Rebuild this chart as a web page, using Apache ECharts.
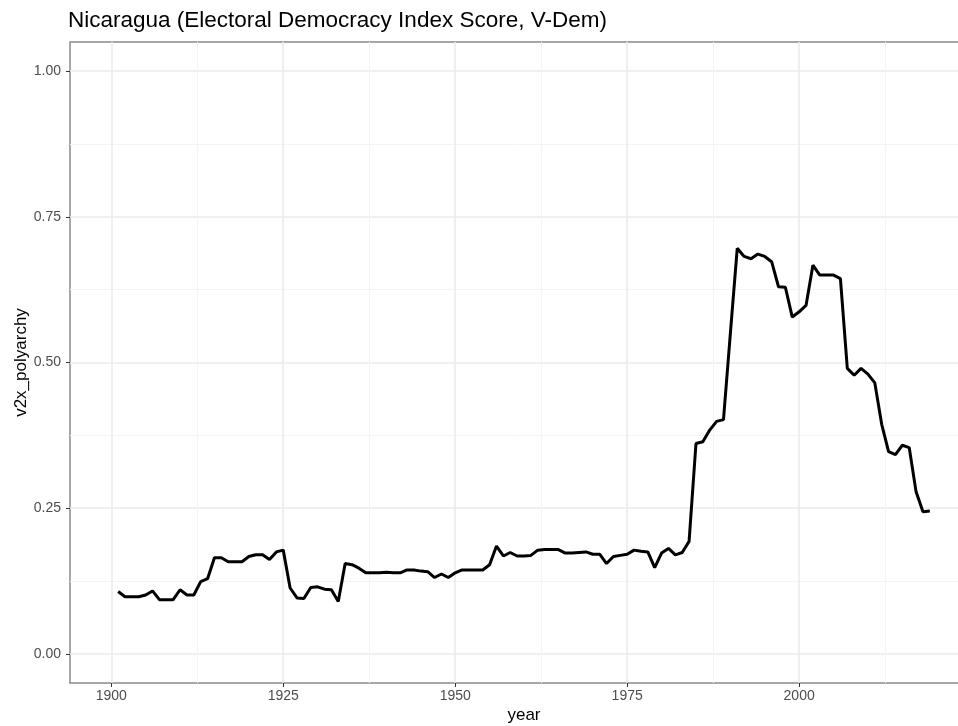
<!DOCTYPE html>
<html>
<head>
<meta charset="utf-8">
<script src="https://cdn.jsdelivr.net/npm/echarts@6/dist/echarts.min.js"></script>
<style>
  html, body { margin: 0; padding: 0; background: #fff; }
  #chart { width: 958px; height: 726px; }
</style>
</head>
<body>
<div id="chart"></div>
<script>
// 数据：年份与 v2x_polyarchy 值
const years = [];
for (let y = 1901; y <= 2019; y++) years.push(y);
const polyarchy = [
  0.107, 0.098, 0.098, 0.098, 0.101, 0.108, 0.093, 0.093, 0.093, 0.110, // 1901-1910
  0.101, 0.101, 0.124, 0.129, 0.165, 0.165, 0.158, 0.158, 0.158, 0.167, // 1911-1920
  0.170, 0.170, 0.162, 0.175, 0.178, 0.113, 0.096, 0.095, 0.114, 0.115, // 1921-1930
  0.111, 0.110, 0.090, 0.155, 0.153, 0.147, 0.139, 0.139, 0.139, 0.140, // 1931-1940
  0.139, 0.139, 0.144, 0.144, 0.142, 0.141, 0.131, 0.137, 0.131, 0.139, // 1941-1950
  0.144, 0.144, 0.144, 0.144, 0.153, 0.185, 0.168, 0.174, 0.168, 0.168, // 1951-1960
  0.169, 0.178, 0.179, 0.179, 0.179, 0.173, 0.173, 0.174, 0.175, 0.171, // 1961-1970
  0.171, 0.155, 0.167, 0.169, 0.171, 0.178, 0.176, 0.175, 0.148, 0.173, // 1971-1980
  0.181, 0.170, 0.174, 0.193, 0.361, 0.364, 0.384, 0.399, 0.402, 0.550, // 1981-1990
  0.696, 0.682, 0.678, 0.686, 0.682, 0.673, 0.630, 0.629, 0.578, 0.587, // 1991-2000
  0.598, 0.667, 0.650, 0.650, 0.650, 0.644, 0.490, 0.478, 0.490, 0.480, // 2001-2010
  0.465, 0.394, 0.347, 0.342, 0.358, 0.354, 0.278, 0.244, 0.245        // 2011-2019
];

// 刻度
const xTicks = [1900, 1925, 1950, 1975, 2000, 2025];
const xLabels = [1900, 1925, 1950, 1975, 2000];
const xMinor = [1912.5, 1937.5, 1962.5, 1987.5, 2012.5];
const yTicks = [0, 0.25, 0.5, 0.75, 1];
const yMinor = [0.125, 0.375, 0.625, 0.875];

const font = 'Liberation Sans, Arial, sans-serif';

const myChart = echarts.init(document.getElementById('chart'));

// 主刻度轴（带标签）
const majorAxis = (type, ticks, labels) => ({
  type: 'value',
  min: type === 'x' ? 1894 : -0.05,
  max: type === 'x' ? 2026 : 1.05,
  axisLine: { show: false, onZero: false },
  axisTick: { show: true, length: 4, customValues: ticks, lineStyle: { color: '#333', width: 1 } },
  axisLabel: {
    customValues: labels,
    color: '#4d4d4d',
    fontSize: 14,
    fontFamily: font,
    margin: type === 'x' ? 6 : 9,
    formatter: v => type === 'x' ? String(v) : v.toFixed(2)
  },
  splitLine: { show: true, lineStyle: { color: '#ebebeb', width: 1.6 } }
});

// 次刻度轴（只画网格线）
const minorAxis = (type, ticks) => ({
  type: 'value',
  min: type === 'x' ? 1894 : -0.05,
  max: type === 'x' ? 2026 : 1.05,
  position: type === 'x' ? 'bottom' : 'left',
  axisLine: { show: false, onZero: false },
  axisTick: { show: false, customValues: ticks },
  axisLabel: { show: false, customValues: ticks },
  splitLine: { show: true, lineStyle: { color: '#f4f4f4', width: 1 } }
});

const option = {
  backgroundColor: '#fff',
  animation: false,
  title: {
    text: 'Nicaragua (Electoral Democracy Index Score, V-Dem)',
    left: 63,
    top: 4,
    textStyle: { color: '#000', fontSize: 22.5, fontWeight: 'normal', fontFamily: font }
  },
  grid: {
    left: 70, top: 42, width: 908, height: 641,
    show: true, borderColor: '#8a8a8a', borderWidth: 1.5,
    outerBoundsMode: 'none',
    containLabel: false
  },
  xAxis: [
    Object.assign(majorAxis('x', xTicks, xLabels), {
      name: 'year', nameLocation: 'middle', nameGap: 24, nameMoveOverlap: false,
      nameTextStyle: { color: '#000', fontSize: 17, fontFamily: font }
    }),
    minorAxis('x', xMinor)
  ],
  yAxis: [
    Object.assign(majorAxis('y', yTicks, yTicks), {
      name: 'v2x_polyarchy', nameLocation: 'middle', nameGap: 40, nameMoveOverlap: false,
      nameTextStyle: { color: '#000', fontSize: 17, fontFamily: font }
    }),
    minorAxis('y', yMinor)
  ],
  series: [
    {
      type: 'line',
      xAxisIndex: 0,
      yAxisIndex: 0,
      symbol: 'none',
      z: 10,
      lineStyle: { color: '#000', width: 3 },
      data: years.map((y, i) => [y, polyarchy[i]])
    }
  ]
};
myChart.setOption(option);
</script>
</body>
</html>
